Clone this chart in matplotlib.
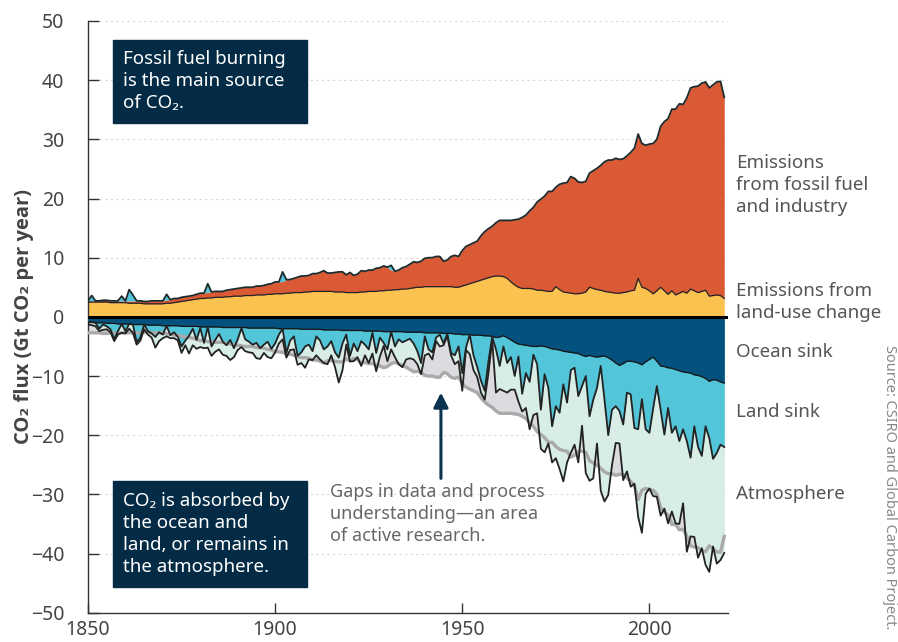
import numpy as np
import matplotlib
matplotlib.use("Agg")
import matplotlib.pyplot as plt
from matplotlib.patches import Rectangle

plt.rcParams['font.family'] = ['Noto Sans', 'DejaVu Sans']

# global carbon budget, Gt CO2 per year, 1850-2020
years = np.arange(1850, 2021)

fossil = [
    0.2, 0.2, 0.2, 0.2, 0.3, 0.3, 0.3, 0.3, 0.3, 0.3,
    0.3, 0.4, 0.4, 0.4, 0.4, 0.4, 0.4, 0.5, 0.5, 0.5,
    0.5, 0.6, 0.6, 0.7, 0.6, 0.7, 0.7, 0.7, 0.7, 0.8,
    0.9, 0.9, 1.0, 1.0, 1.0, 1.0, 1.0, 1.1, 1.2, 1.2,
    1.3, 1.4, 1.4, 1.4, 1.4, 1.5, 1.5, 1.6, 1.7, 1.8,
    2.0, 2.0, 2.1, 2.3, 2.3, 2.4, 2.6, 2.8, 2.7, 2.8,
    3.0, 3.0, 3.2, 3.5, 3.1, 3.1, 3.3, 3.4, 3.4, 3.0,
    3.4, 2.9, 3.1, 3.6, 3.5, 3.6, 3.6, 3.9, 3.9, 4.2,
    3.9, 3.4, 3.1, 3.3, 3.6, 3.8, 4.1, 4.4, 4.2, 4.4,
    4.8, 4.9, 4.9, 5.1, 5.1, 4.3, 4.5, 5.1, 5.4, 5.2,
    6.0, 6.5, 6.6, 6.7, 6.8, 7.5, 8.0, 8.3, 8.5, 9.0,
    9.4, 9.5, 9.8, 10.4, 11.0, 11.5, 12.0, 12.4, 13.1, 13.8,
    14.9, 15.4, 16.0, 16.9, 16.9, 16.8, 17.8, 18.4, 18.6, 19.7,
    19.5, 18.9, 18.7, 18.7, 19.3, 19.9, 20.5, 21.1, 21.9, 22.3,
    22.4, 22.8, 22.6, 22.6, 23.0, 23.4, 24.0, 24.4, 24.3, 24.2,
    24.8, 25.4, 25.6, 27.2, 28.6, 29.7, 30.7, 31.4, 32.0, 31.6,
    33.0, 34.0, 34.5, 34.9, 35.2, 35.2, 35.2, 35.6, 36.0, 36.2,
    34.0]

land_use = [
    2.5, 2.5, 2.5, 2.5, 2.5, 2.5, 2.4, 2.4, 2.4, 2.4,
    2.4, 2.3, 2.3, 2.3, 2.3, 2.2, 2.2, 2.2, 2.2, 2.2,
    2.2, 2.3, 2.3, 2.4, 2.5, 2.6, 2.7, 2.8, 2.9, 3.0,
    3.1, 3.1, 3.2, 3.2, 3.3, 3.3, 3.3, 3.4, 3.4, 3.5,
    3.5, 3.5, 3.6, 3.6, 3.6, 3.7, 3.7, 3.7, 3.8, 3.8,
    3.9, 3.9, 3.9, 4.0, 4.0, 4.1, 4.1, 4.1, 4.2, 4.2,
    4.3, 4.3, 4.3, 4.3, 4.3, 4.3, 4.2, 4.2, 4.2, 4.1,
    4.1, 4.1, 4.1, 4.2, 4.2, 4.3, 4.3, 4.3, 4.4, 4.4,
    4.5, 4.5, 4.6, 4.6, 4.7, 4.7, 4.8, 4.9, 5.0, 5.0,
    5.1, 5.1, 5.1, 5.1, 5.1, 5.1, 5.1, 5.1, 5.0, 5.0,
    5.2, 5.4, 5.6, 5.8, 6.0, 6.2, 6.4, 6.6, 6.8, 6.9,
    6.9, 6.8, 6.5, 5.9, 5.4, 5.0, 4.8, 4.8, 4.8, 4.7,
    4.5, 4.5, 4.4, 4.3, 4.3, 5.1, 4.6, 4.2, 4.1, 4.0,
    3.9, 3.9, 4.0, 4.2, 5.0, 4.8, 4.6, 4.5, 4.3, 4.2,
    4.1, 4.0, 4.0, 4.1, 4.2, 4.4, 4.5, 6.5, 5.0, 4.8,
    4.4, 3.9, 4.4, 5.0, 4.4, 3.8, 4.4, 3.7, 4.0, 4.3,
    4.0, 4.7, 4.4, 4.1, 4.3, 4.5, 3.5, 3.6, 3.7, 3.6,
    3.1]

ocean_sink = [
    0.9, 0.9, 1.0, 1.0, 1.0, 1.1, 1.1, 1.1, 1.2, 1.2,
    1.2, 1.2, 1.3, 1.3, 1.3, 1.3, 1.4, 1.4, 1.4, 1.4,
    1.5, 1.5, 1.5, 1.5, 1.5, 1.6, 1.6, 1.6, 1.6, 1.6,
    1.7, 1.7, 1.7, 1.7, 1.7, 1.7, 1.8, 1.8, 1.8, 1.8,
    1.8, 1.8, 1.8, 1.9, 1.9, 1.9, 1.9, 1.9, 1.9, 1.9,
    1.9, 2.0, 2.0, 2.0, 2.0, 2.0, 2.0, 2.1, 2.1, 2.1,
    2.1, 2.1, 2.1, 2.2, 2.2, 2.2, 2.2, 2.2, 2.3, 2.3,
    2.3, 2.3, 2.3, 2.3, 2.4, 2.4, 2.4, 2.4, 2.4, 2.5,
    2.5, 2.5, 2.5, 2.5, 2.5, 2.6, 2.6, 2.6, 2.6, 2.6,
    2.7, 2.7, 2.7, 2.7, 2.7, 2.8, 2.8, 2.8, 2.9, 2.9,
    3.0, 3.0, 3.0, 3.1, 3.1, 3.1, 3.2, 3.2, 3.3, 3.5,
    3.4, 3.2, 3.5, 3.9, 4.3, 4.6, 4.7, 4.8, 4.9, 5.0,
    5.0, 4.9, 5.0, 5.2, 5.4, 5.5, 5.6, 5.8, 5.9, 6.0,
    6.1, 6.2, 6.5, 6.7, 6.5, 6.7, 6.8, 6.7, 6.6, 6.9,
    7.3, 7.8, 8.2, 7.9, 7.5, 7.5, 7.6, 7.8, 8.1, 7.6,
    7.2, 6.8, 7.5, 8.3, 8.4, 8.6, 8.7, 8.9, 9.1, 9.3,
    9.4, 9.5, 9.8, 9.9, 10.1, 10.4, 10.9, 10.6, 10.7, 11.0,
    11.2]

# negative values = land acting as a source (drawn on top of emissions)
land_sink = [
    0.1, -0.9, 0.0, 1.0, 0.3, 0.5, 1.0, 2.7, 1.2, -0.8,
    1.2, -1.9, -1.0, 3.0, 2.2, 0.0, 1.0, 1.4, 2.0, 1.2,
    1.5, -0.9, 1.6, 1.1, 1.9, 3.4, 2.4, 1.6, 0.4, 2.3,
    0.2, 2.7, -1.4, 3.3, 2.2, 1.2, 2.4, 3.0, 2.1, 3.5,
    2.0, 0.1, 2.0, 2.3, 2.8, 2.5, 3.4, 2.8, 2.3, 3.5,
    2.6, 1.0, -1.6, 4.1, 2.0, 1.3, 4.6, 3.9, 2.9, 2.6,
    3.7, 1.2, 1.9, 3.3, 2.8, 1.9, 3.8, 4.7, 2.2, 0.7,
    4.3, 2.2, 3.5, 1.8, 2.3, 3.1, 0.3, 3.7, 1.1, 1.9,
    3.0, -0.8, 2.5, 1.3, 1.8, 1.4, 1.1, 1.9, 3.2, 5.2,
    0.6, 2.8, 3.3, 0.8, 0.3, 1.7, 0.1, 3.3, 3.6, 2.1,
    6.5, 2.2, 0.0, 3.4, 5.4, 7.7, 9.3, 4.3, 0.1, 2.0,
    4.9, 1.8, 4.3, 2.9, 5.7, 2.1, 8.3, 4.7, 6.1, 1.4,
    3.0, 10.8, 4.7, 6.8, 13.1, 9.6, 10.6, 5.6, 8.6, 3.0,
    2.5, 7.2, 5.2, 3.3, 10.3, 7.3, 5.2, 1.6, 7.4, 13.1,
    8.4, 7.3, 7.7, 10.3, 5.3, 5.6, 11.2, 11.2, 5.8, 11.4,
    12.4, 8.7, 4.2, 7.4, 11.5, 6.8, 10.9, 9.6, 11.9, 9.7,
    11.6, 14.3, 8.7, 12.1, 13.4, 8.1, 9.6, 13.4, 12.3, 10.6,
    10.8]

atmosphere = [
    0.3, 0.5, 0.6, 0.4, 0.9, 0.5, 0.5, 0.3, 0.6, 1.5,
    0.4, 0.8, 1.4, 0.4, 0.5, 0.8, 0.6, 0.7, 1.8, 1.5,
    0.6, 1.8, 0.5, 1.0, 0.6, 1.1, 0.8, 3.0, 2.8, 1.5,
    3.2, 0.9, 3.5, 1.6, 2.0, 2.6, 2.2, 1.8, 3.4, 1.5,
    1.8, 3.2, 2.0, 1.8, 1.4, 2.6, 1.8, 1.4, 2.6, 1.6,
    1.5, 1.5, 1.8, 0.8, 1.6, 2.2, 1.5, 1.8, 3.6, 2.5,
    1.5, 3.2, 3.2, 2.3, 3.0, 2.4, 2.5, 4.2, 4.5, 1.7,
    0.9, 3.0, 1.0, 4.2, 1.8, 2.3, 3.5, 3.1, 3.2, 0.5,
    2.0, 3.0, 1.8, 4.2, 4.2, 3.2, 3.3, 2.7, 2.2, 1.9,
    3.2, 0.7, 1.2, 0.6, 2.0, 0.3, 0.3, 0.4, 1.5, 2.5,
    3.0, 0.4, 3.3, 2.5, 1.7, 2.0, 1.5, 2.0, 0.5, 7.3,
    3.9, 7.5, 5.0, 5.5, 2.3, 7.6, 3.0, 5.9, 8.0, 10.2,
    8.3, 6.6, 13.2, 9.4, 6.1, 8.8, 9.5, 16.4, 10.1, 14.0,
    13.0, 11.2, 6.7, 16.4, 10.9, 13.3, 9.4, 21.1, 17.2, 10.1,
    9.4, 6.2, 5.5, 9.4, 13.3, 15.6, 9.4, 14.8, 22.6, 10.9,
    9.4, 14.8, 18.7, 17.9, 12.5, 19.5, 13.3, 16.4, 14.0, 12.5,
    18.7, 13.3, 18.7, 18.7, 15.6, 23.4, 22.6, 14.8, 18.7, 19.5,
    17.9]

ytick_vals = list(range(-50, 51, 10))
xtick_vals = [1850, 1900, 1950, 2000]

c_fossil = '#da5a35'
c_luc = '#fcc24f'
c_ocean = '#03517e'
c_land = '#52c5d9'
c_atm = '#d8ede6'
c_gap = '#dcdce0'
c_gapline = '#a9a9a9'
c_box = '#042b45'

ff = np.array(fossil)
luc = np.array(land_use)
ocean = np.array(ocean_sink)
land = np.array(land_sink)
atm = np.array(atmosphere)

sources = luc + ff
land_src = np.clip(-land, 0, None)
top = sources + land_src
ocean_b = -ocean
upper = -(ocean + np.clip(land, 0, None))
lower = upper - atm

W, H = 898, 642
fig = plt.figure(figsize=(W / 100, H / 100), dpi=100)
ax = fig.add_axes([88 / W, 1 - 612.7 / H, 640 / W, 591.7 / H])

for y in ytick_vals:
    if y != 0:
        ax.axhline(y, color='#d9d9d9', lw=0.8, ls=(0, (2, 3)), zorder=0)

# emissions
ax.fill_between(years, 0, luc, color=c_luc, lw=0, zorder=2)
ax.fill_between(years, luc, sources, color=c_fossil, lw=0, zorder=2)
ax.fill_between(years, sources, top, color=c_land, lw=0, zorder=2)
ax.plot(years, luc, color='#222222', lw=0.9, zorder=6)
ax.plot(years, top, color='#1c2a2c', lw=1.3, zorder=6)

# sinks
ax.fill_between(years, 0, -sources, color=c_gap, lw=0, zorder=1)
ax.fill_between(years, 0, lower, color=c_atm, lw=0, zorder=2)
ax.fill_between(years, 0, upper, color=c_land, lw=0, zorder=3)
ax.fill_between(years, 0, ocean_b, color=c_ocean, lw=0, zorder=4)
ax.plot(years, -sources, color=c_gapline, lw=2.4, zorder=5)
ax.plot(years, ocean_b, color='#1a1a1a', lw=1.0, zorder=6)
ax.plot(years, upper, color='#222222', lw=1.3, zorder=6)
ax.plot(years, lower, color='#222222', lw=1.3, zorder=6)
ax.axhline(0, color='black', lw=2.2, zorder=7)

ax.set_xlim(1850, 2021)
ax.set_ylim(-50, 50)
ax.set_yticks(ytick_vals)
ax.set_xticks(xtick_vals)
for s in ['top', 'right']:
    ax.spines[s].set_visible(False)
for s in ['left', 'bottom']:
    ax.spines[s].set_color('#333333')
    ax.spines[s].set_linewidth(1.0)
ax.tick_params(axis='y', direction='in', length=8, width=1, color='#333333',
               labelsize=14, labelcolor='#444444', pad=17)
ax.tick_params(axis='x', direction='in', length=7, width=1, color='#333333',
               labelsize=14, labelcolor='#444444', pad=5)
ax.set_ylabel('CO₂ flux (Gt CO₂ per year)', fontsize=14.5, fontweight='bold',
              family=['Open Sans', 'DejaVu Sans'], color='#444444')
ax.yaxis.set_label_coords(-54 / 640, 0.5)

# arrow pointing at the budget imbalance
ax.annotate('', xy=(1944.3, -12.8), xytext=(1944.3, -27.3),
            arrowprops=dict(arrowstyle='-|>', color='#0c3350', lw=2.2,
                            mutation_scale=22, shrinkA=0, shrinkB=0))


def ftext(xp, yp, s, **kw):
    return fig.text(xp / W, 1 - yp / H, s, **kw)


for (x0, y0, x1, y1) in [(113, 40, 307, 123), (113, 481, 307, 587)]:
    fig.patches.append(Rectangle((x0 / W, 1 - y1 / H), (x1 - x0) / W, (y1 - y0) / H,
                                 transform=fig.transFigure, color=c_box, zorder=10))

ftext(123, 81, 'Fossil fuel burning\nis the main source\nof CO₂.', color='white',
      fontsize=13.5, va='center', ha='left', linespacing=1.28, zorder=11)
ftext(123, 534, 'CO₂ is absorbed by\nthe ocean and\nland, or remains in\nthe atmosphere.',
      color='white', fontsize=13.5, va='center', ha='left', linespacing=1.28, zorder=11)

ftext(330, 514, 'Gaps in data and process\nunderstanding—an area\nof active research.',
      color='#666666', fontsize=13, va='center', ha='left', linespacing=1.28)

lab = dict(color='#555555', fontsize=13.5, va='center', ha='left', linespacing=1.28)
ftext(736, 185, 'Emissions\nfrom fossil fuel\nand industry', **lab)
ftext(736, 302, 'Emissions from\nland-use change', **lab)
ftext(736, 352, 'Ocean sink', **lab)
ftext(736, 412, 'Land sink', **lab)
ftext(736, 494, 'Atmosphere', **lab)

ftext(886, 345, 'Source: CSIRO and Global Carbon Project.', color='#888888',
      fontsize=10.5, rotation=270, rotation_mode='anchor', ha='left', va='baseline')

fig.savefig('out.png', dpi=100)
